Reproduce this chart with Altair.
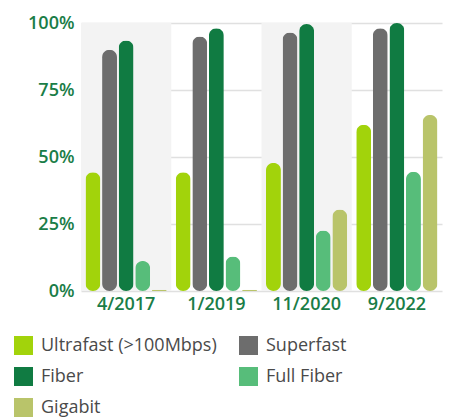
import altair as alt
import pandas as pd

dates = ["4/2017", "1/2019", "11/2020", "9/2022"]
series = ["Ultrafast (>100Mbps)", "Superfast", "Fiber", "Full Fiber", "Gigabit"]
colors = ["#a2d30b", "#6d6d6d", "#107b42", "#57bd7a", "#b9c46a"]
ultrafast = [44.3, 44.3, 47.8, 62.0]
superfast = [90.0, 95.0, 96.5, 98.0]
fiber = [93.5, 98.0, 99.6, 100.0]
full_fiber = [11.2, 12.9, 22.6, 44.5]
gigabit = [0.5, 0.5, 30.4, 65.7]
shaded = ["4/2017", "11/2020"]

vals = [ultrafast, superfast, fiber, full_fiber, gigabit]
rows = []
for s, v in zip(series, vals):
    for d, x in zip(dates, v):
        rows.append({"date": d, "series": s, "value": x / 100})
df = pd.DataFrame(rows)
bg = pd.DataFrame({"date": shaded, "top": [1.0, 1.0]})

W, H = 361, 268
FONT = "Open Sans"
GREEN = "#1a7d47"

xscale = alt.Scale(domain=dates, paddingInner=0, paddingOuter=0)
xaxis = alt.Axis(labelAngle=0, labelFontSize=18, labelColor=GREEN,
                 labelFont=FONT, labelFontWeight=600, ticks=False,
                 domain=False, labelPadding=4, grid=False)
yaxis = alt.Axis(format="%", values=[0, 0.25, 0.5, 0.75, 1],
                 labelFontSize=18, labelColor=GREEN, labelFont=FONT,
                 labelFontWeight=600, ticks=False, domain=False,
                 labelPadding=7, gridColor="#e0e0e0", gridWidth=1.5)
yscale = alt.Scale(domain=[0, 1], nice=False)

back = alt.Chart(bg).mark_bar(color="#f3f3f3").encode(
    x=alt.X("date:N", scale=xscale, sort=dates, title=None, axis=xaxis),
    y=alt.Y("top:Q", scale=yscale, title=None, axis=yaxis),
)

bars = alt.Chart(df).mark_bar(cornerRadius=7.5).encode(
    x=alt.X("date:N", scale=xscale, sort=dates, title=None, axis=xaxis),
    xOffset=alt.XOffset("series:N", sort=series,
                        scale=alt.Scale(domain=series, paddingInner=0.1, paddingOuter=0.27)),
    y=alt.Y("value:Q", title=None, scale=yscale, axis=yaxis),
    color=alt.Color("series:N", sort=series,
                    scale=alt.Scale(domain=series, range=colors),
                    legend=alt.Legend(title=None, orient="none", legendX=-67, legendY=313,
                                      columns=2, direction="horizontal",
                                      symbolType="square", symbolSize=361,
                                      symbolStrokeWidth=0, labelFontSize=18, labelFont=FONT,
                                      labelColor="#4a4a4a", labelOffset=8, labelLimit=300,
                                      columnPadding=22, rowPadding=12)),
)

chart = alt.layer(back, bars).properties(
    width=W, height=H,
    padding={"left": 6, "top": 6, "right": 5, "bottom": 5},
).configure_view(stroke=None)

chart.save("out.html", embed_options={"renderer": "svg", "actions": False})
